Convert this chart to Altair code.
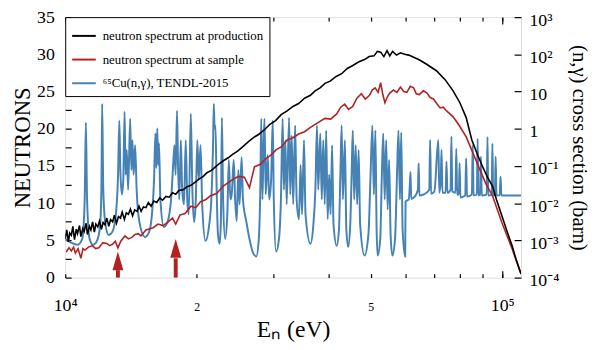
import altair as alt
import pandas as pd

FONT = "Liberation Serif"

# ---------------- data (energies in keV) ----------------
S_PROD = "neutron spectrum at production"
S_SAMP = "neutron spectrum at sample"
S_CU = "⁶⁵Cu(n,γ), TENDL-2015"
SERIES = [S_PROD, S_SAMP, S_CU]
COLORS = ["#000000", "#b22222", "#4682b4"]

prod_E = [10.0, 10.08, 10.17, 10.24, 10.33, 10.41, 10.5, 10.6, 10.67, 10.78,
          10.86, 10.97, 11.05, 11.16, 11.24, 11.36, 11.45, 11.55, 11.66, 11.75,
          11.87, 11.98, 12.1, 12.21, 12.33, 12.45, 12.58, 12.7, 12.84, 12.96,
          13.1, 13.24, 13.38, 13.5, 13.66, 13.8, 13.95, 14.1, 14.26, 14.42,
          14.6, 14.75, 14.92, 15.1, 15.3, 15.5, 15.72, 15.95, 16.2, 16.45,
          16.7, 17.0, 17.3, 17.6, 17.9, 18.2, 18.6, 19.0, 19.4, 19.8,
          20.2, 20.7, 21.1, 21.6, 22.0, 22.5, 23.0, 23.6, 24.2, 24.8,
          25.5, 26.3, 27.1, 27.8, 28.6, 29.4, 30.3, 31.2, 32.2, 33.2,
          34.2, 35.3, 36.4, 37.3, 38.3, 39.3, 40.4, 41.6, 42.9, 44.2,
          45.5, 47.0, 48.4, 49.6, 50.9, 51.8, 52.7, 53.6, 54.5, 55.3,
          56.1, 57.3, 58.5, 59.8, 61.1, 62.7, 64.4, 67.0, 70.7, 74.0,
          77.2, 80.0, 82.7, 85.2, 87.8, 90.2, 92.5, 95.0, 97.0, 99.8,
          102.6, 105.3, 107.5, 110.4]
prod_N = [5.2, 6.4, 4.8, 6.0, 5.7, 6.9, 5.1, 6.5, 5.9, 7.0,
          5.5, 6.6, 6.2, 7.3, 5.8, 6.9, 6.4, 7.5, 6.1, 7.2,
          6.8, 7.6, 6.5, 7.4, 7.1, 8.0, 6.9, 7.8, 7.5, 8.4,
          7.3, 8.2, 8.0, 8.8, 7.8, 8.7, 8.5, 9.2, 8.3, 9.1,
          8.9, 9.6, 8.9, 9.5, 9.4, 10.1, 9.6, 10.3, 10.1, 10.7,
          10.4, 10.9, 10.8, 11.4, 11.2, 11.7, 11.8, 12.2, 12.4, 12.8,
          13.2, 13.6, 14.1, 14.4, 14.8, 15.3, 15.7, 16.1, 16.6, 17.0,
          17.6, 18.3, 18.9, 19.3, 19.9, 20.6, 21.1, 21.9, 22.4, 23.0,
          23.4, 24.1, 24.5, 25.1, 25.5, 26.1, 26.4, 27.0, 27.4, 28.1,
          28.5, 29.0, 29.3, 29.7, 29.8, 30.4, 30.3, 29.7, 30.5, 29.8,
          30.4, 29.9, 30.2, 30.0, 29.9, 29.6, 29.3, 28.7, 27.8, 26.6,
          25.1, 23.5, 21.5, 18.5, 16.5, 14.9, 13.5, 12.3, 10.5, 8.3,
          6.2, 4.3, 2.5, 0.5]

samp_E = [10.05, 10.2, 10.33, 10.45, 10.55, 10.7, 10.86, 10.98, 11.1, 11.3,
          11.54, 11.74, 11.94, 12.2, 12.45, 12.64, 12.84, 13.02, 13.2, 13.4,
          13.7, 13.95, 14.2, 14.45, 14.7, 14.9, 15.1, 15.3, 15.5, 15.9,
          16.3, 16.75, 17.2, 17.6, 17.9, 18.3, 18.8, 19.4, 19.9, 20.4,
          21.0, 21.5, 22.2, 23.0, 23.9, 24.9, 25.7, 26.4, 27.1, 27.9,
          28.8, 29.6, 30.4, 31.3, 32.2, 33.2, 34.2, 35.3, 36.4, 37.8,
          39.3, 40.5, 41.8, 42.7, 43.6, 44.5, 45.5, 46.5, 47.6, 48.6,
          49.7, 50.4, 51.2, 52.0, 52.7, 53.3, 53.9, 54.6, 55.3, 56.4,
          57.4, 58.5, 59.5, 60.5, 61.6, 62.7, 63.6, 64.6, 66.0, 67.3,
          68.4, 69.6, 70.8, 72.1, 73.3, 74.6, 75.9, 77.2, 79.6, 82.7,
          85.2, 88.3, 91.6, 95.0, 99.8, 105.3, 110.4]
samp_N = [3.45, 4.0, 3.6, 4.1, 3.3, 3.9, 2.6, 3.9, 3.7, 4.1,
          4.3, 3.9, 4.0, 4.7, 4.6, 4.3, 4.5, 4.9, 4.0, 4.9,
          5.6, 5.2, 5.4, 5.8, 5.9, 5.6, 6.0, 6.4, 6.5, 6.7,
          7.2, 7.0, 7.5, 8.0, 7.2, 8.4, 8.6, 9.6, 9.4, 10.2,
          10.5, 11.0, 11.3, 12.3, 13.0, 13.6, 13.5, 12.1, 14.9, 15.2,
          16.0, 16.5, 17.2, 17.6, 18.5, 18.8, 19.3, 19.6, 20.2, 20.8,
          21.4, 21.3, 22.0, 22.9, 23.3, 22.6, 23.0, 24.1, 24.7, 24.0,
          24.5, 25.2, 25.5, 24.9, 26.2, 24.6, 23.5, 24.3, 24.8, 25.2,
          24.9, 25.6, 25.0, 24.9, 25.7, 25.5, 24.7, 24.6, 25.1, 24.8,
          24.2, 24.0, 23.4, 22.8, 22.9, 22.4, 22.0, 21.6, 20.5, 18.9,
          17.1, 14.9, 12.7, 11.0, 7.4, 3.9, 0.5]

cu_E = [10.0, 10.33, 10.66, 10.94, 11.08, 11.15, 11.22, 11.37, 11.58, 11.82,
        12.01, 12.10, 12.15, 12.22, 12.36, 12.58, 12.85, 13.08, 13.21, 13.30,
        13.37, 13.48, 13.58, 13.67, 13.75, 13.83, 13.93, 14.08, 14.17, 14.25,
        14.34, 14.45, 14.57, 14.77, 15.22, 15.56, 15.80, 15.97, 16.08, 16.16,
        16.24, 16.32, 16.39, 16.51, 16.82, 17.17, 17.48, 17.66, 17.78, 17.89,
        18.02, 18.13, 18.24, 18.39, 18.52, 18.70, 18.87, 19.02, 19.17, 19.38,
        19.54, 19.72, 19.90, 20.06, 20.21, 20.40, 20.58, 20.94, 21.35, 21.62,
        21.79, 21.88, 21.97, 22.07, 22.21, 22.36, 22.56, 22.71, 22.83, 22.98,
        23.22, 23.49, 23.68, 23.87, 24.04, 24.30, 24.48, 24.68, 24.90, 25.06,
        25.33, 25.51, 25.98, 26.40, 26.95, 27.37, 27.73, 27.95, 28.09, 28.27,
        28.42, 28.58, 28.76, 29.06, 29.29, 29.59, 29.85, 30.01, 30.37, 30.84,
        31.16, 31.44, 31.65, 31.90, 32.12, 32.53, 32.73, 32.98, 33.24, 33.58,
        33.85, 34.26, 34.56, 34.83, 35.19, 35.47, 36.40, 36.97, 37.36, 37.68,
        37.93, 38.34, 38.64, 38.95, 39.25, 39.55, 39.86, 40.17, 40.48, 40.80,
        41.11, 41.81, 42.31, 42.64, 42.91, 43.19, 43.65, 43.98, 44.41, 44.90,
        45.25, 45.50, 45.84, 46.20, 46.56, 46.93, 47.30, 48.42, 49.42, 49.93,
        50.45, 50.85, 51.25, 51.59, 51.86, 52.59, 53.00, 53.42, 53.83, 54.25,
        54.68, 55.11, 55.53, 56.06, 56.85, 57.44, 57.89, 58.34, 58.74, 59.16,
        59.97, 60.09, 61.12, 61.43, 61.66, 61.92, 63.04, 64.13, 64.38, 64.63,
        66.07, 68.08, 68.39, 68.73, 69.94, 71.40, 71.78, 72.33, 72.63, 72.98,
        74.20, 74.55, 74.92, 76.18, 76.50, 76.86, 78.15, 78.50, 78.87, 79.55,
        79.89, 80.23, 82.30, 82.68, 83.06, 85.22, 85.60, 85.99, 87.49, 87.84,
        88.22, 89.00, 89.38, 89.80, 92.14, 92.52, 92.90, 94.60, 94.95, 95.35,
        96.20, 96.58, 97.03, 98.70, 99.10, 99.58, 110.4]
cu_sigma = [0.0011, 0.00086, 0.00076, 0.0011, 0.0126, 1.47, 0.0126, 0.0011, 0.00076, 0.00097,
            0.0023, 0.023, 4.67, 0.023, 0.0027, 0.0014, 0.0018, 0.0061, 0.058, 1.66,
            0.078, 0.0171, 0.043, 2.86, 0.058, 0.27, 0.023, 1.87, 0.078, 0.49,
            0.058, 0.36, 0.023, 0.0033, 0.00124, 0.0017, 0.0054, 0.043, 0.75, 0.089,
            1.02, 0.106, 0.41, 0.0126, 0.0023, 0.0033, 0.0142, 0.106, 0.36, 0.058,
            3.05, 0.078, 0.0126, 0.49, 0.023, 0.0093, 0.49, 0.0126, 0.005, 2.54,
            0.023, 0.0031, 0.0126, 0.49, 0.043, 0.36, 0.0093, 0.00097, 0.0026, 0.0171,
            0.36, 4.67, 1.02, 1.22, 0.023, 0.00149, 0.00081, 0.0033, 1.99, 0.0126,
            0.0011, 0.005, 0.144, 0.0126, 0.0171, 0.144, 0.0126, 0.0033, 0.078, 0.0093,
            0.173, 0.0126, 0.0031, 0.0011, 0.00044, 0.00037, 0.0011, 0.023, 1.87, 0.0126,
            0.27, 1.87, 0.0171, 0.196, 0.0126, 0.043, 1.66, 0.0126, 0.0005, 0.0011,
            0.0126, 1.87, 0.023, 0.49, 0.0093, 1.99, 0.0171, 0.66, 0.0093, 1.22,
            0.0126, 0.0037, 0.106, 0.005, 0.49, 0.005, 0.00081, 0.0027, 0.023, 1.22,
            0.023, 0.75, 0.0126, 0.49, 0.0093, 0.90, 0.0037, 0.058, 0.005, 0.36,
            0.0027, 0.00072, 0.002, 0.078, 1.22, 0.0126, 0.49, 0.002, 0.00067, 0.0027,
            0.078, 0.90, 0.0126, 0.36, 0.0093, 0.27, 0.0027, 0.00039, 0.00149, 0.043,
            1.22, 0.0171, 0.90, 0.002, 0.00039, 0.0011, 0.043, 0.75, 0.0126, 0.49,
            0.0068, 0.144, 0.00149, 0.00039, 0.0011, 0.058, 0.90, 0.0126, 0.80, 0.002,
            0.00037, 0.0111, 0.0126, 0.0278, 0.069, 0.013, 0.015, 0.023, 0.118, 0.0161,
            0.0171, 0.023, 0.50, 0.018, 0.0205, 0.50, 0.019, 0.043, 0.27, 0.019,
            0.019, 0.13, 0.019, 0.023, 0.62, 0.0205, 0.019, 0.29, 0.0171, 0.017,
            0.118, 0.0142, 0.016, 0.16, 0.015, 0.0171, 0.36, 0.0161, 0.0171, 0.54,
            0.0161, 0.0165, 0.177, 0.0161, 0.0171, 0.60, 0.0161, 0.0171, 0.40, 0.0161,
            0.0165, 0.177, 0.0161, 0.0165, 0.052, 0.0161, 0.0161]

# arrows marking two energies (keV), tail / head-base / tip in NEUTRONS units
arrow_E = [13.2, 17.9]
arrow_tail = [0.0, 0.0]
arrow_headbase = [1.0, 2.6]
arrow_tip = [3.5, 5.2]

X_TICKS = [10000, 20000, 30000, 40000, 50000, 60000, 70000, 80000, 90000, 100000]
L_TICKS = [0, 2.5, 5, 7.5, 10, 12.5, 15, 17.5, 20, 22.5, 25, 27.5, 30, 32.5, 35]
R_TICKS = [1e-4, 1e-3, 1e-2, 1e-1, 1, 10, 100, 1000]

# ---------------- frames ----------------
prod_df = pd.DataFrame({"E": [e * 1000 for e in prod_E], "N": prod_N, "series": S_PROD})
samp_df = pd.DataFrame({"E": [e * 1000 for e in samp_E], "N": samp_N, "series": S_SAMP})
cu_df = pd.DataFrame({"E": [e * 1000 for e in cu_E], "sigma": cu_sigma, "series": S_CU})
arrow_df = pd.DataFrame({"E": [e * 1000 for e in arrow_E], "tail": arrow_tail,
                         "hb": arrow_headbase, "tip": arrow_tip})

x_scale = alt.Scale(type="log", domain=[10000, 110400], nice=False)
yl_scale = alt.Scale(domain=[0, 35], nice=False, zero=False)
yr_scale = alt.Scale(type="log", domain=[1e-4, 1e3], nice=False)
color_scale = alt.Scale(domain=SERIES, range=COLORS)

x_bottom = alt.Axis(
    orient="bottom", values=X_TICKS,
    labelExpr="datum.value == 10000 ? '10⁴' : datum.value == 20000 ? '2' : datum.value == 50000 ? '5' : datum.value == 100000 ? '10⁵' : ''",
    tickSize=4, offset=-4, domain=False, grid=False, tickColor="black", tickWidth=1.2,
    labelFont=FONT, labelColor="black",
    labelFontSize={"condition": {"test": "datum.value == 20000 || datum.value == 50000", "value": 12}, "value": 18},
    labelBaseline="alphabetic", labelPadding=33, labelOverlap=False, labelFlush=False,
    title="Eₙ (eV)", titleFont=FONT, titleFontSize=24, titleFontWeight="normal",
    titleColor="black", titlePadding=4,
)
x_top = alt.Axis(orient="top", values=X_TICKS, labels=False, tickSize=4, offset=-4,
                 domain=False, grid=False, tickColor="black", tickWidth=1.2, title=None)
x_top_major = alt.Axis(orient="top", values=[100000], labels=False, tickSize=7, offset=-7,
                       domain=False, grid=False, tickColor="black", tickWidth=1.2, title=None)
x_bottom_major = alt.Axis(orient="bottom", values=[100000], labels=False, tickSize=7, offset=-7,
                          domain=False, grid=False, tickColor="black", tickWidth=1.2, title=None)

y_left = alt.Axis(
    orient="left", values=L_TICKS, labelExpr="datum.value % 5 == 0 ? datum.label : ''",
    tickSize=6, offset=-6, domain=False, grid=False, tickColor="black", tickWidth=1.2,
    labelFont=FONT, labelFontSize=18, labelColor="black", labelPadding=11, labelOverlap=False,
    title="NEUTRONS", titleFont=FONT, titleFontSize=23, titleFontWeight="normal",
    titleColor="black", titlePadding=2,
)
y_right = alt.Axis(
    orient="right", values=R_TICKS,
    labelExpr="datum.value >= 999 ? '10³' : datum.value >= 99 ? '10²' : datum.value >= 9 ? '10' : datum.value >= 0.9 ? '1' : datum.value >= 0.09 ? '10⁻¹' : datum.value >= 0.009 ? '10⁻²' : datum.value >= 0.0009 ? '10⁻³' : '10⁻⁴'",
    tickSize=7, offset=-7, domain=False, grid=False, tickColor="black", tickWidth=1.2,
    labelFont=FONT, labelFontSize=18, labelColor="black", labelPadding=8, labelOverlap=False,
    labelOffset=3,
    title="(n,γ) cross section (barn)", titleFont=FONT, titleFontSize=21,
    titleFontWeight="normal", titleColor="black", titlePadding=10,
)

legend = alt.Legend(
    orient="top-left", offset=0, title=None, padding=6, fillColor="white",
    strokeColor="black", symbolType="stroke", symbolSize=576, symbolStrokeWidth=2,
    labelFont=FONT, labelFontSize=13, labelColor="black", labelLimit=400,
    labelOffset=6, rowPadding=4,
)
color = alt.Color("series:N", scale=color_scale, legend=legend)

blue = alt.Chart(cu_df).mark_line(strokeWidth=2, clip=True, interpolate="monotone").encode(
    x=alt.X("E:Q", scale=x_scale, axis=x_bottom),
    y=alt.Y("sigma:Q", scale=yr_scale, axis=y_right),
    color=color,
)
red = alt.Chart(samp_df).mark_line(strokeWidth=1.6, clip=True).encode(
    x=alt.X("E:Q", scale=x_scale, axis=x_top),
    y=alt.Y("N:Q", scale=yl_scale, axis=None),
    color=color,
)
black = alt.Chart(prod_df).mark_line(strokeWidth=1.6, clip=True).encode(
    x=alt.X("E:Q", scale=x_scale, axis=None),
    y=alt.Y("N:Q", scale=yl_scale, axis=y_left),
    color=color,
)
shaft = alt.Chart(arrow_df).mark_rule(color="#b22222", strokeWidth=4).encode(
    x=alt.X("E:Q", scale=x_scale, axis=x_top_major),
    y=alt.Y("tail:Q", scale=yl_scale, axis=None),
    y2="hb:Q",
)
head = alt.Chart(arrow_df).mark_point(
    shape="M0,-1L0.58,1L-0.58,1Z", filled=True, size=361, color="#b22222",
    opacity=1, strokeWidth=0, yOffset=9.5,
).encode(
    x=alt.X("E:Q", scale=x_scale, axis=x_bottom_major),
    y=alt.Y("tip:Q", scale=yl_scale, axis=None),
)

chart = alt.layer(blue, red, black, shaft, head).resolve_scale(
    y="independent"
).resolve_axis(x="independent", y="independent").properties(
    width=462, height=264,
    autosize=alt.AutoSizeParams(type="none"),
    padding={"left": 58, "top": 7, "right": 75, "bottom": 63},
).configure_view(stroke="black", strokeWidth=1.5).configure(background="white")

chart.save("out.html", embed_options={"renderer": "svg", "actions": False})
